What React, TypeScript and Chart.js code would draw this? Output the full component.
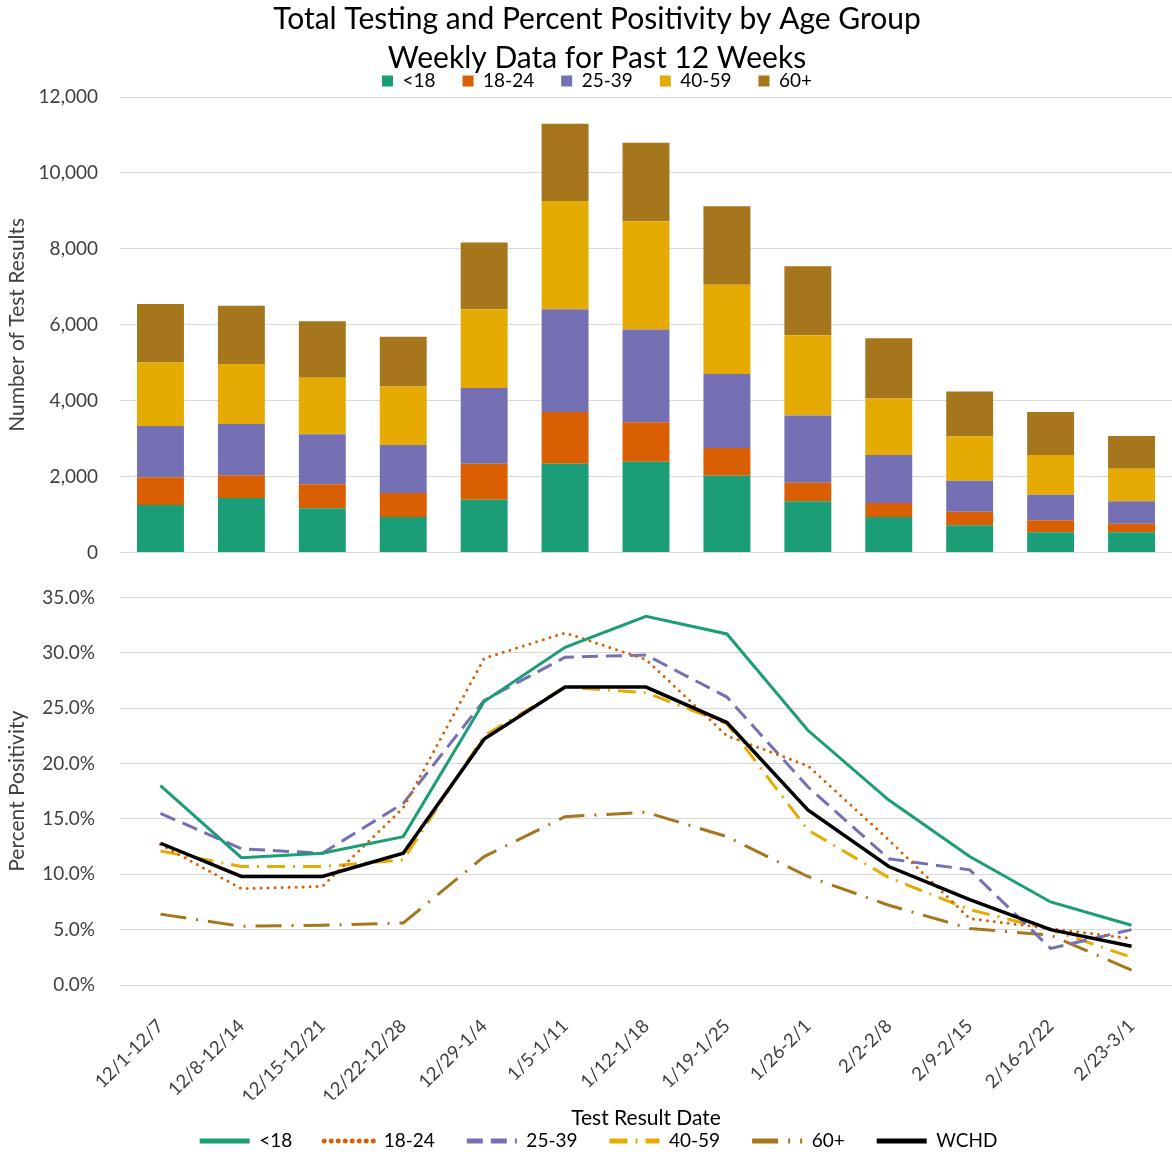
import React, { useEffect, useRef } from "react";
import { Chart, registerables } from "chart.js";
Chart.register(...registerables);

const weeks = ["12/1-12/7", "12/8-12/14", "12/15-12/21", "12/22-12/28", "12/29-1/4", "1/5-1/11", "1/12-1/18", "1/19-1/25", "1/26-2/1", "2/2-2/8", "2/9-2/15", "2/16-2/22", "2/23-3/1"];
const ageGroups = ["<18", "18-24", "25-39", "40-59", "60+"];

const testsUnder18 = [1254, 1439, 1167, 939, 1395, 2342, 2395, 2026, 1351, 939, 719, 535, 535];
const tests18to24 = [728, 596, 631, 631, 947, 1360, 1035, 728, 491, 368, 360, 316, 228];
const tests25to39 = [1352, 1351, 1316, 1263, 1991, 2710, 2447, 1948, 1772, 1263, 816, 675, 588];
const tests40to59 = [1674, 1579, 1491, 1544, 2079, 2851, 2851, 2351, 2114, 1491, 1166, 1044, 860];
const tests60plus = [1537, 1535, 1491, 1307, 1755, 2035, 2070, 2070, 1816, 1588, 1185, 1132, 859];

const posUnder18 = [18.0, 11.5, 11.9, 13.4, 25.6, 30.5, 33.3, 31.7, 23.0, 16.7, 11.6, 7.5, 5.4];
const pos18to24 = [12.7, 8.7, 8.9, 16.0, 29.5, 31.8, 29.4, 22.5, 19.8, 13.1, 6.0, 5.1, 4.2];
const pos25to39 = [15.5, 12.3, 11.9, 16.4, 25.7, 29.6, 29.8, 26.0, 17.9, 11.4, 10.4, 3.3, 5.0];
const pos40to59 = [12.1, 10.7, 10.7, 11.3, 22.5, 26.9, 26.4, 23.6, 14.0, 9.7, 6.8, 5.0, 2.5];
const pos60plus = [6.4, 5.3, 5.4, 5.6, 11.6, 15.2, 15.6, 13.4, 9.8, 7.2, 5.1, 4.5, 1.35];
const posWCHD = [12.8, 9.8, 9.8, 11.9, 22.2, 26.9, 26.9, 23.7, 15.8, 10.7, 7.7, 5.0, 3.5];

const titleLines = ["Total Testing and Percent Positivity by Age Group", "Weekly Data for Past 12 Weeks"];
const colors = ["#1b9e77", "#d95f02", "#7570b3", "#e6ab02", "#a6761d"];
const FONT = "Lato";
const TICK_COLOR = "#404040";
const GRID_COLOR = "#d9d9d9";

export default function App() {
  const topRef = useRef<HTMLCanvasElement>(null);
  const botRef = useRef<HTMLCanvasElement>(null);

  useEffect(() => {
    Chart.defaults.font.family = FONT;
    const testSeries = [testsUnder18, tests18to24, tests25to39, tests40to59, tests60plus];
    const topPadLeft = 22;
    const top = new Chart(topRef.current!, {
      type: "bar",
      data: {
        labels: weeks,
        datasets: ageGroups.map((g, i) => ({
          label: g,
          data: testSeries[i],
          backgroundColor: colors[i],
          borderWidth: 0,
          barPercentage: 0.58,
          categoryPercentage: 1,
        })),
      },
      options: {
        animation: false,
        responsive: false,
        devicePixelRatio: 1,
        layout: { padding: { left: topPadLeft, right: 0, top: 0, bottom: 0 } },
        plugins: {
          title: {
            display: true,
            text: titleLines,
            color: "#000",
            font: { size: 30, weight: "normal", lineHeight: 1.3 },
            padding: { top: 0, bottom: -33.5 },
          },
          legend: {
            position: "top",
            maxHeight: 52.5,
            labels: { boxWidth: 11, boxHeight: 11, padding: 27, color: "#000", font: { size: 19 } },
          },
          tooltip: { enabled: false },
        },
        scales: {
          x: { stacked: true, display: false },
          y: {
            stacked: true,
            min: 0,
            max: 12000,
            afterFit: (s: any) => { s.width = 120 - topPadLeft; },
            ticks: {
              stepSize: 2000,
              color: TICK_COLOR,
              font: { size: 19 },
              padding: 22,
              callback: (v: any) => Number(v).toLocaleString("en-US"),
            },
            grid: { color: GRID_COLOR, drawTicks: false },
            border: { display: false },
            title: { display: true, text: "Number of Test Results", color: TICK_COLOR, font: { size: 21 }, padding: { top: 4.4 - topPadLeft, bottom: 0 } },
          },
        },
      } as any,
    });

    const posSeries = [posUnder18, pos18to24, pos25to39, pos40to59, pos60plus, posWCHD];
    const labels = [...ageGroups, "WCHD"];
    const lineColors = [...colors, "#000000"];
    const dashes = [[], [0, 7], [16, 8], [18, 8, 2, 8], [26, 10, 2, 10], []];
    const botPadLeft = 25;
    const bot = new Chart(botRef.current!, {
      type: "line",
      data: {
        labels: weeks,
        datasets: labels.map((l, i) => ({
          label: l,
          data: posSeries[i],
          borderColor: lineColors[i],
          backgroundColor: lineColors[i],
          borderWidth: i === 5 ? 3.5 : 3,
          borderDash: dashes[i],
          borderCapStyle: i === 1 ? "round" : "butt",
          pointRadius: 0,
          tension: 0,
          order: i === 5 ? 0 : 1,
        })) as any,
      },
      options: {
        animation: false,
        responsive: false,
        devicePixelRatio: 1,
        layout: { padding: { left: botPadLeft, right: 0, top: 0, bottom: 0 } },
        plugins: {
          legend: {
            position: "bottom",
            maxHeight: 56.5,
            labels: {
              usePointStyle: true,
              pointStyle: "line",
              pointStyleWidth: 50,
              padding: 32,
              color: "#000",
              font: { size: 19 },
              generateLabels: (c: any) =>
                Chart.defaults.plugins.legend.labels
                  .generateLabels(c)
                  .sort((a: any, b: any) => a.datasetIndex - b.datasetIndex)
                  .map((it: any) => {
                    const ds = c.data.datasets[it.datasetIndex];
                    return {
                      ...it,
                      lineWidth: 5,
                      lineDash: ds.borderDash,
                      lineCap: ds.borderCapStyle,
                      strokeStyle: ds.borderColor,
                    };
                  }),
            },
          },
          tooltip: { enabled: false },
        },
        scales: {
          x: {
            offset: true,
            afterFit: (s: any) => { s.height = 114.5; },
            grid: { display: false },
            border: { display: false },
            ticks: { minRotation: 45, maxRotation: 45, color: TICK_COLOR, font: { size: 18.5 }, padding: 22 },
            title: { display: true, text: "Test Result Date", color: "#000", font: { size: 21 }, padding: { top: 31, bottom: -31 } },
          },
          y: {
            min: 0,
            max: 35,
            afterFit: (s: any) => { s.width = 120 - botPadLeft; },
            ticks: {
              stepSize: 5,
              color: TICK_COLOR,
              font: { size: 19 },
              padding: 25,
              callback: (v: any) => Number(v).toFixed(1) + "%",
            },
            grid: { color: GRID_COLOR, drawTicks: false },
            border: { display: false },
            title: { display: true, text: "Percent Positivity", color: TICK_COLOR, font: { size: 21 }, padding: { top: 4.4 - botPadLeft, bottom: 0 } },
          },
        },
      } as any,
    });
    return () => {
      top.destroy();
      bot.destroy();
    };
  }, []);

  return (
    <div style={{ position: "absolute", left: 0, top: 0, width: 1172, height: 1156, background: "#fff", overflow: "hidden" }}>
      <canvas ref={topRef} width={1172} height={586} style={{ position: "absolute", left: 0, top: 0 }} />
      <canvas ref={botRef} width={1172} height={595} style={{ position: "absolute", left: 0, top: 561 }} />
    </div>
  );
}
